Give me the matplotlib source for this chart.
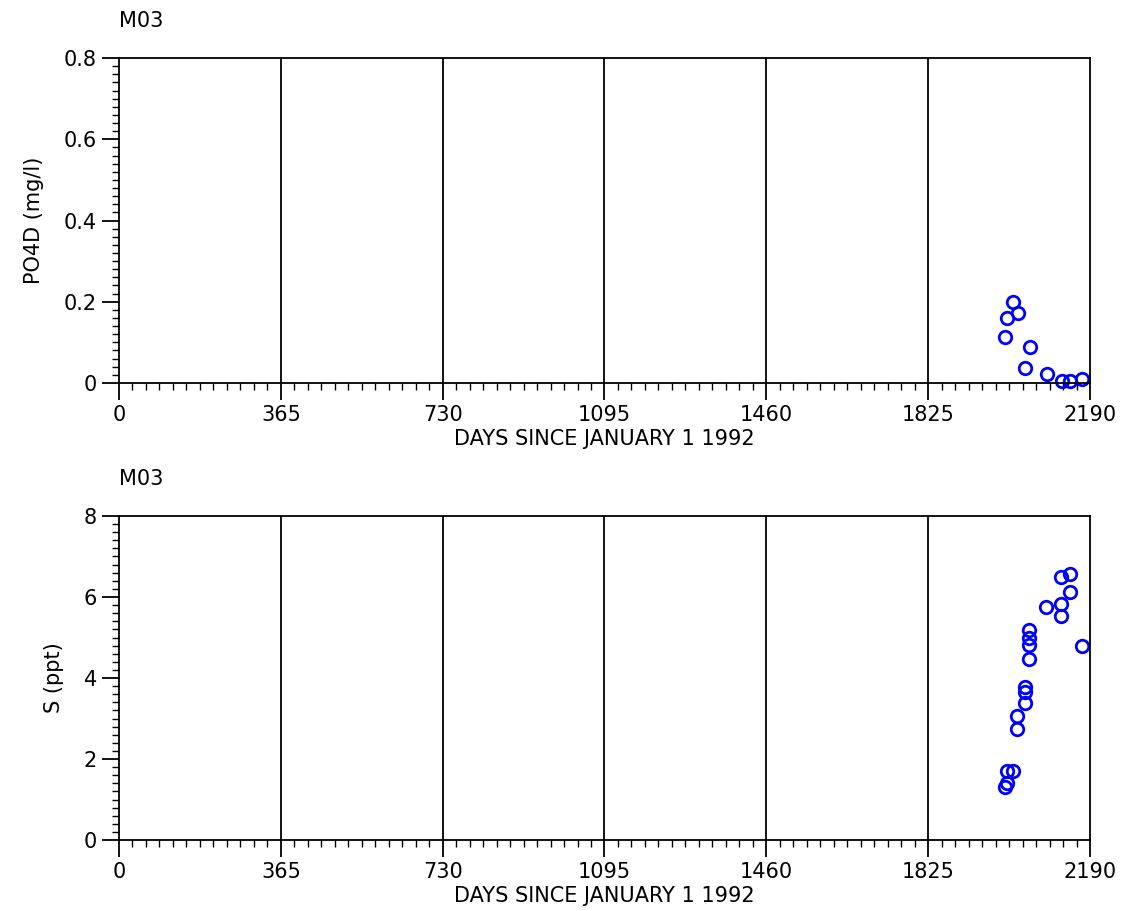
import numpy as np
import matplotlib
matplotlib.use("Agg")
import matplotlib.pyplot as plt
from matplotlib.ticker import MultipleLocator

# station / labels
station = "M03"
xlabel = "DAYS SINCE JANUARY 1 1992"
xticks = [0, 365, 730, 1095, 1460, 1825, 2190]

# PO4D (mg/l)
po4_days = [1999, 2003, 2016, 2027, 2043, 2055, 2092, 2126, 2145, 2171]
po4_vals = [0.113, 0.161, 0.199, 0.172, 0.038, 0.089, 0.022, 0.006, 0.006, 0.009]

# salinity (ppt)
s_days = [1998, 2002, 2002, 2017, 2025, 2025, 2043, 2043, 2043,
          2053, 2053, 2053, 2053, 2091, 2124, 2124, 2124, 2144, 2146, 2171]
s_vals = [1.30, 1.41, 1.70, 1.70, 2.73, 3.06, 3.38, 3.66, 3.77,
          4.47, 4.81, 5.00, 5.19, 5.75, 5.54, 5.83, 6.50, 6.13, 6.56, 4.79]

fs = 15
fig = plt.figure(figsize=(11.3, 9.11), dpi=100)

panels = [
    ([0.1053, 0.5796, 0.8593, 0.3567], po4_days, po4_vals, 0.8, 0.2, 0.02,
     "PO4D (mg/l)", ["0", "0.2", "0.4", "0.6", "0.8"]),
    ([0.1053, 0.0779, 0.8593, 0.3557], s_days, s_vals, 8, 2, 0.2,
     "S (ppt)", ["0", "2", "4", "6", "8"]),
]

for rect, xd, yd, ymax, ymaj, ymin, ylab, ylabs in panels:
    ax = fig.add_axes(rect)
    ax.set_xlim(0, 2190)
    ax.set_ylim(0, ymax)
    for v in xticks[1:-1]:
        ax.axvline(v, color="black", lw=1.3)
    ax.plot(xd, yd, "o", mfc="none", mec="blue", mew=2.0, ms=9, clip_on=False)
    ax.set_xticks(xticks)
    ax.set_xticklabels([str(t) for t in xticks], fontsize=fs)
    ax.xaxis.set_minor_locator(MultipleLocator(365 / 12))
    ax.set_yticks(np.arange(0, ymax + ymaj / 2, ymaj))
    ax.set_yticklabels(ylabs, fontsize=fs)
    ax.yaxis.set_minor_locator(MultipleLocator(ymin))
    ax.tick_params(which="major", direction="out", length=12, width=1.3, pad=4)
    ax.tick_params(which="minor", direction="out", length=5, width=1.0)
    for s in ax.spines.values():
        s.set_linewidth(1.3)
    ax.set_xlabel(xlabel, fontsize=fs, labelpad=3)
    ax.set_ylabel(ylab, fontsize=fs, labelpad=14)
    ax.set_title(station, loc="left", fontsize=fs, pad=22)

plt.savefig("out.png", dpi=100)
